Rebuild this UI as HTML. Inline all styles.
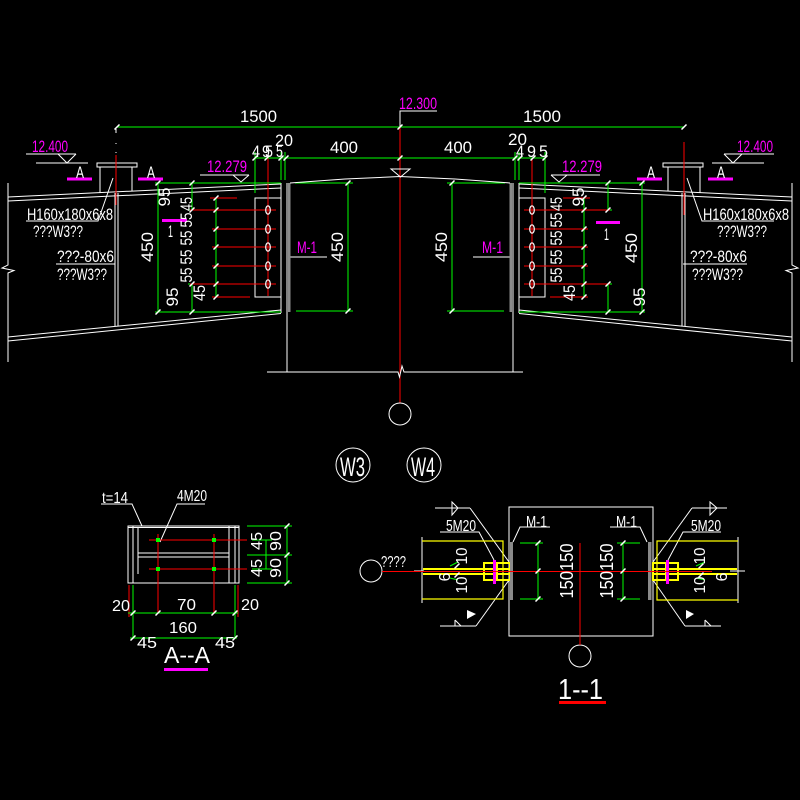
<!DOCTYPE html>
<html><head><meta charset="utf-8"><style>
html,body{margin:0;padding:0;background:#000;}
svg{display:block;}
text{font-family:"Liberation Sans",sans-serif;}
</style></head><body>
<svg width="800" height="800" viewBox="0 0 800 800" xmlns="http://www.w3.org/2000/svg">
<rect width="800" height="800" fill="#000"/>

<!-- ===== LEFT HALF GEOMETRY ===== -->
<g>
 <g fill="none" stroke="#fff" stroke-width="1">
  <path d="M8,183 V265 L2,268 L14,270.5 L8,273 V362"/>
  <line x1="8" y1="197" x2="281" y2="184"/>
  <line x1="8" y1="201" x2="281" y2="188"/>
  <line x1="8" y1="337" x2="281" y2="310"/>
  <line x1="8" y1="341" x2="281" y2="313.5"/>
  <rect x="97" y="163" width="40" height="4"/>
  <line x1="100" y1="167" x2="100" y2="192.5"/>
  <line x1="132" y1="167" x2="132" y2="191"/>
  <line x1="115" y1="193" x2="115" y2="326"/>
  <line x1="118" y1="193" x2="118" y2="326"/>
  <line x1="26" y1="154" x2="76" y2="154"/>
  <path d="M58,154 L67,163 L76,154"/>
  <line x1="36" y1="163" x2="88" y2="163"/>
  <polyline points="26,221 98,221 113,178"/>
  <line x1="56" y1="264" x2="115" y2="264"/>
  <line x1="200" y1="175" x2="249" y2="175"/>
  <path d="M233,175 L241,182 L249,175"/>
  <rect x="255" y="198" width="26" height="99"/>
  <line x1="281" y1="183" x2="281" y2="313"/>
  <line x1="287" y1="183" x2="287" y2="372"/>
  <line x1="290" y1="257" x2="327" y2="257"/>
 </g>
 <rect x="288" y="183" width="2.5" height="129" fill="#8a8a8a"/>
 <g stroke="#f00" stroke-width="1">
  <line x1="268" y1="158" x2="268" y2="296"/>
  <line x1="210" y1="198" x2="237" y2="198"/>
  <line x1="190" y1="210" x2="276" y2="210"/>
  <line x1="212" y1="229" x2="276" y2="229"/>
  <line x1="212" y1="247" x2="276" y2="247"/>
  <line x1="212" y1="266" x2="276" y2="266"/>
  <line x1="190" y1="284" x2="276" y2="284"/>
  <line x1="212" y1="297" x2="250" y2="297"/>
 </g>
 <g stroke="#0f0" stroke-width="1">
  <line x1="158" y1="183" x2="158" y2="312"/>
  <line x1="155" y1="183" x2="281" y2="183"/>
  <line x1="155" y1="312" x2="281" y2="312"/>
  <line x1="192" y1="183" x2="192" y2="210"/>
  <line x1="188" y1="210" x2="190" y2="210"/>
  <line x1="192" y1="284" x2="192" y2="312"/>
  <line x1="188" y1="284" x2="190" y2="284"/>
  <line x1="216" y1="198" x2="216" y2="297"/>
  <line x1="255" y1="152" x2="255" y2="193"/>
  <line x1="281" y1="152" x2="281" y2="180"/>
  <line x1="285" y1="152" x2="285" y2="180"/>
  <line x1="348" y1="183" x2="348" y2="311"/>
  <line x1="295" y1="183" x2="353" y2="183"/>
  <line x1="296" y1="311" x2="353" y2="311"/>
 </g>
 <g fill="none" stroke="#fff" stroke-width="1.2">
  <ellipse cx="268" cy="210" rx="2.3" ry="4.2"/>
  <ellipse cx="268" cy="229" rx="2.3" ry="4.2"/>
  <ellipse cx="268" cy="247" rx="2.3" ry="4.2"/>
  <ellipse cx="268" cy="266" rx="2.3" ry="4.2"/>
  <ellipse cx="268" cy="284" rx="2.3" ry="4.2"/>
 </g>
 <path stroke="#fff" stroke-width="1.5" fill="none" d="M155.5,185.5 l5,-5 M155.5,314.5 l5,-5 M189.5,185.5 l5,-5 M189.5,212.5 l5,-5 M189.5,286.5 l5,-5 M189.5,314.5 l5,-5 M213.5,200.5 l5,-5 M213.5,212.5 l5,-5 M213.5,231.5 l5,-5 M213.5,249.5 l5,-5 M213.5,268.5 l5,-5 M213.5,286.5 l5,-5 M213.5,299.5 l5,-5 M345.5,185.5 l5,-5 M345.5,313.5 l5,-5"/>
 <rect x="67" y="177.5" width="25" height="3" fill="#f0f"/>
 <rect x="138" y="177.5" width="25" height="3" fill="#f0f"/>
</g>

<!-- ===== RIGHT HALF (mirror) ===== -->
<g transform="translate(800,0) scale(-1,1)">
 <g fill="none" stroke="#fff" stroke-width="1">
  <path d="M8,183 V265 L2,268 L14,270.5 L8,273 V362"/>
  <line x1="8" y1="197" x2="281" y2="184"/>
  <line x1="8" y1="201" x2="281" y2="188"/>
  <line x1="8" y1="337" x2="281" y2="310"/>
  <line x1="8" y1="341" x2="281" y2="313.5"/>
  <rect x="97" y="163" width="40" height="4"/>
  <line x1="100" y1="167" x2="100" y2="192.5"/>
  <line x1="132" y1="167" x2="132" y2="191"/>
  <line x1="115" y1="193" x2="115" y2="326"/>
  <line x1="118" y1="193" x2="118" y2="326"/>
  <line x1="26" y1="154" x2="76" y2="154"/>
  <path d="M58,154 L67,163 L76,154"/>
  <line x1="36" y1="163" x2="88" y2="163"/>
  <polyline points="26,221 98,221 113,178"/>
  <line x1="53" y1="264" x2="117" y2="264"/>
  <line x1="200" y1="175" x2="249" y2="175"/>
  <path d="M233,175 L241,182 L249,175"/>
  <rect x="255" y="198" width="26" height="99"/>
  <line x1="281" y1="183" x2="281" y2="313"/>
  <line x1="287" y1="183" x2="287" y2="372"/>
  <line x1="290" y1="257" x2="327" y2="257"/>
 </g>
 <rect x="288" y="183" width="2.5" height="129" fill="#8a8a8a"/>
 <g stroke="#f00" stroke-width="1">
  <line x1="268" y1="158" x2="268" y2="296"/>
  <line x1="210" y1="198" x2="237" y2="198"/>
  <line x1="190" y1="210" x2="276" y2="210"/>
  <line x1="212" y1="229" x2="276" y2="229"/>
  <line x1="212" y1="247" x2="276" y2="247"/>
  <line x1="212" y1="266" x2="276" y2="266"/>
  <line x1="190" y1="284" x2="276" y2="284"/>
  <line x1="212" y1="297" x2="250" y2="297"/>
 </g>
 <g stroke="#0f0" stroke-width="1">
  <line x1="158" y1="183" x2="158" y2="312"/>
  <line x1="155" y1="183" x2="281" y2="183"/>
  <line x1="155" y1="312" x2="281" y2="312"/>
  <line x1="192" y1="183" x2="192" y2="210"/>
  <line x1="188" y1="210" x2="190" y2="210"/>
  <line x1="192" y1="284" x2="192" y2="312"/>
  <line x1="188" y1="284" x2="190" y2="284"/>
  <line x1="216" y1="198" x2="216" y2="297"/>
  <line x1="255" y1="152" x2="255" y2="193"/>
  <line x1="281" y1="152" x2="281" y2="180"/>
  <line x1="285" y1="152" x2="285" y2="180"/>
  <line x1="348" y1="183" x2="348" y2="311"/>
  <line x1="295" y1="183" x2="353" y2="183"/>
  <line x1="296" y1="311" x2="353" y2="311"/>
 </g>
 <g fill="none" stroke="#fff" stroke-width="1.2">
  <ellipse cx="268" cy="210" rx="2.3" ry="4.2"/>
  <ellipse cx="268" cy="229" rx="2.3" ry="4.2"/>
  <ellipse cx="268" cy="247" rx="2.3" ry="4.2"/>
  <ellipse cx="268" cy="266" rx="2.3" ry="4.2"/>
  <ellipse cx="268" cy="284" rx="2.3" ry="4.2"/>
 </g>
 <path stroke="#fff" stroke-width="1.5" fill="none" d="M155.5,180.5 l5,5 M155.5,309.5 l5,5 M189.5,180.5 l5,5 M189.5,207.5 l5,5 M189.5,281.5 l5,5 M189.5,309.5 l5,5 M213.5,195.5 l5,5 M213.5,207.5 l5,5 M213.5,226.5 l5,5 M213.5,244.5 l5,5 M213.5,263.5 l5,5 M213.5,281.5 l5,5 M213.5,294.5 l5,5 M345.5,180.5 l5,5 M345.5,308.5 l5,5"/>
 <rect x="67" y="177.5" width="25" height="3" fill="#f0f"/>
 <rect x="138" y="177.5" width="25" height="3" fill="#f0f"/>
</g>

<!-- ===== CENTER / SHARED TOP ===== -->
<g stroke="#0f0" stroke-width="1">
 <line x1="117" y1="127" x2="684" y2="127"/>
 <line x1="255" y1="158" x2="545" y2="158"/>
 <line x1="545" y1="158" x2="545" y2="192"/>
</g>
<g stroke="#f00" stroke-width="1">
 <line x1="116" y1="155" x2="116" y2="205"/>
 <line x1="684" y1="142" x2="684" y2="215"/>
 <line x1="400" y1="127" x2="400" y2="403"/>
</g>
<g fill="none" stroke="#fff" stroke-width="1">
 <line x1="116" y1="129" x2="116" y2="133"/>
 <line x1="116" y1="143" x2="116" y2="144"/>
 <line x1="116" y1="152" x2="116" y2="153"/>
 <polyline points="290,183 345,179 400,176.5 455,179 510,183"/>
 <path d="M391,169 H410 L400.5,177 Z"/>
 <path d="M267,372 H398 L399.5,377 L402,366 L404,372 H523"/>
 <circle cx="400" cy="414" r="11"/>
 <polyline points="437,111 400,111 400,127"/>
</g>
<path stroke="#fff" stroke-width="1.5" fill="none" d="M114.5,129.5 l5,-5 M397.5,129.5 l5,-5 M681.5,129.5 l5,-5 M252.5,160.5 l5,-5 M264.5,160.5 l5,-5 M278.5,160.5 l5,-5 M283.5,160.5 l5,-5 M397.5,160.5 l5,-5 M512.5,160.5 l5,-5 M517.5,160.5 l5,-5 M530.5,160.5 l5,-5 M542.5,160.5 l5,-5"/>

<rect x="162" y="219" width="25" height="3" fill="#f0f"/>
<rect x="596" y="221" width="24" height="3" fill="#f0f"/>

<!-- ===== TOP TEXTS ===== -->
<g fill="#fff" font-size="16.5">
 <text x="240" y="122" textLength="37" lengthAdjust="spacingAndGlyphs">1500</text>
 <text x="523" y="122" textLength="38" lengthAdjust="spacingAndGlyphs">1500</text>
 <text x="330" y="153" textLength="28" lengthAdjust="spacingAndGlyphs">400</text>
 <text x="444" y="153" textLength="28" lengthAdjust="spacingAndGlyphs">400</text>
 <text x="275" y="146" textLength="18" lengthAdjust="spacingAndGlyphs">20</text>
 <text x="508" y="145" textLength="19" lengthAdjust="spacingAndGlyphs">20</text>
 <text x="252" y="157" textLength="8" lengthAdjust="spacingAndGlyphs">4</text>
 <text x="262" y="157" textLength="8" lengthAdjust="spacingAndGlyphs">9</text>
 <text x="265" y="157" textLength="8" lengthAdjust="spacingAndGlyphs">5</text>
 <text x="276" y="157" textLength="7" lengthAdjust="spacingAndGlyphs">5</text>
 <text x="516" y="157" textLength="8" lengthAdjust="spacingAndGlyphs">4</text>
 <text x="527" y="157" textLength="9" lengthAdjust="spacingAndGlyphs">9</text>
 <text x="539" y="157" textLength="9" lengthAdjust="spacingAndGlyphs">5</text>
 <text x="27" y="220" textLength="86" lengthAdjust="spacingAndGlyphs">H160x180x6x8</text>
 <text x="703" y="220" textLength="86" lengthAdjust="spacingAndGlyphs">H160x180x6x8</text>
 <text x="33" y="237" textLength="50" lengthAdjust="spacingAndGlyphs">???W3??</text>
 <text x="717" y="237" textLength="50" lengthAdjust="spacingAndGlyphs">???W3??</text>
 <text x="57" y="262" textLength="57" lengthAdjust="spacingAndGlyphs">???-80x6</text>
 <text x="690" y="262" textLength="57" lengthAdjust="spacingAndGlyphs">???-80x6</text>
 <text x="57" y="280" textLength="50" lengthAdjust="spacingAndGlyphs">???W3??</text>
 <text x="692" y="280" textLength="51" lengthAdjust="spacingAndGlyphs">???W3??</text>
 <text x="76" y="178" textLength="8" lengthAdjust="spacingAndGlyphs">A</text>
 <text x="147" y="178" textLength="8" lengthAdjust="spacingAndGlyphs">A</text>
 <text x="647" y="178" textLength="8" lengthAdjust="spacingAndGlyphs">A</text>
 <text x="717" y="178" textLength="8" lengthAdjust="spacingAndGlyphs">A</text>
 <text x="168" y="237" textLength="5" lengthAdjust="spacingAndGlyphs">1</text>
 <text x="604" y="240" textLength="5" lengthAdjust="spacingAndGlyphs">1</text>
</g>
<g fill="#f0f" font-size="16.5">
 <text x="32" y="152" textLength="36" lengthAdjust="spacingAndGlyphs">12.400</text>
 <text x="737" y="152" textLength="36" lengthAdjust="spacingAndGlyphs">12.400</text>
 <text x="207" y="172" textLength="40" lengthAdjust="spacingAndGlyphs">12.279</text>
 <text x="562" y="172" textLength="40" lengthAdjust="spacingAndGlyphs">12.279</text>
 <text x="399" y="109" textLength="38" lengthAdjust="spacingAndGlyphs">12.300</text>
 <text x="297" y="253" textLength="20" lengthAdjust="spacingAndGlyphs">M-1</text>
 <text x="482" y="253" textLength="21" lengthAdjust="spacingAndGlyphs">M-1</text>
</g>
<g fill="#fff" font-size="16.5" text-anchor="middle">
 <text transform="translate(147,247) rotate(-90)" x="0" y="6" textLength="30" lengthAdjust="spacingAndGlyphs">450</text>
 <text transform="translate(337,247) rotate(-90)" x="0" y="6" textLength="30" lengthAdjust="spacingAndGlyphs">450</text>
 <text transform="translate(441,247) rotate(-90)" x="0" y="6" textLength="30" lengthAdjust="spacingAndGlyphs">450</text>
 <text transform="translate(631,248) rotate(-90)" x="0" y="6" textLength="30" lengthAdjust="spacingAndGlyphs">450</text>
 <text transform="translate(164,197) rotate(-90)" x="0" y="6" textLength="19" lengthAdjust="spacingAndGlyphs">95</text>
 <text transform="translate(172,297) rotate(-90)" x="0" y="6" textLength="19" lengthAdjust="spacingAndGlyphs">95</text>
 <text transform="translate(578,197) rotate(-90)" x="0" y="6" textLength="19" lengthAdjust="spacingAndGlyphs">95</text>
 <text transform="translate(639,297) rotate(-90)" x="0" y="6" textLength="19" lengthAdjust="spacingAndGlyphs">95</text>
 <text transform="translate(186,204) rotate(-90)" x="0" y="6" textLength="14" lengthAdjust="spacingAndGlyphs">45</text>
 <text transform="translate(186,220) rotate(-90)" x="0" y="6" textLength="15" lengthAdjust="spacingAndGlyphs">55</text>
 <text transform="translate(186,238) rotate(-90)" x="0" y="6" textLength="15" lengthAdjust="spacingAndGlyphs">55</text>
 <text transform="translate(186,257) rotate(-90)" x="0" y="6" textLength="15" lengthAdjust="spacingAndGlyphs">55</text>
 <text transform="translate(186,275) rotate(-90)" x="0" y="6" textLength="15" lengthAdjust="spacingAndGlyphs">55</text>
 <text transform="translate(199,293) rotate(-90)" x="0" y="6" textLength="16" lengthAdjust="spacingAndGlyphs">45</text>
 <text transform="translate(556,204) rotate(-90)" x="0" y="6" textLength="14" lengthAdjust="spacingAndGlyphs">45</text>
 <text transform="translate(556,220) rotate(-90)" x="0" y="6" textLength="15" lengthAdjust="spacingAndGlyphs">55</text>
 <text transform="translate(556,238) rotate(-90)" x="0" y="6" textLength="15" lengthAdjust="spacingAndGlyphs">55</text>
 <text transform="translate(556,257) rotate(-90)" x="0" y="6" textLength="15" lengthAdjust="spacingAndGlyphs">55</text>
 <text transform="translate(556,275) rotate(-90)" x="0" y="6" textLength="15" lengthAdjust="spacingAndGlyphs">55</text>
 <text transform="translate(569,293) rotate(-90)" x="0" y="6" textLength="16" lengthAdjust="spacingAndGlyphs">45</text>
</g>

<!-- ===== W3 / W4 ===== -->
<g fill="none" stroke="#fff" stroke-width="1">
 <circle cx="353" cy="465" r="17"/>
 <circle cx="424" cy="465" r="17"/>
</g>
<g fill="#fff" font-size="27">
 <text x="340" y="476" textLength="25" lengthAdjust="spacingAndGlyphs">W3</text>
 <text x="411" y="476" textLength="24" lengthAdjust="spacingAndGlyphs">W4</text>
</g>

<!-- ===== SECTION A--A ===== -->
<g fill="none" stroke="#fff" stroke-width="1">
 <polyline points="101,504 132,504 142,526"/>
 <polyline points="205,504 177,504 160,542"/>
 <rect x="128" y="526" width="111" height="57"/>
 <line x1="128" y1="527.5" x2="239" y2="527.5"/>
 <line x1="133" y1="526" x2="133" y2="583"/>
 <line x1="138" y1="527" x2="138" y2="574"/>
 <line x1="229" y1="526" x2="229" y2="583"/>
 <line x1="235" y1="526" x2="235" y2="583"/>
 <line x1="138" y1="553" x2="229" y2="553"/>
 <line x1="138" y1="557" x2="229" y2="557"/>
</g>
<g stroke="#f00" stroke-width="1">
 <line x1="149" y1="540" x2="247" y2="540"/>
 <line x1="149" y1="569" x2="247" y2="569"/>
 <line x1="158" y1="534" x2="158" y2="613"/>
 <line x1="214" y1="534" x2="214" y2="613"/>
 <line x1="129" y1="585" x2="129" y2="617"/>
 <line x1="238" y1="585" x2="238" y2="617"/>
</g>
<g fill="#0f0">
 <rect x="156" y="538" width="4" height="4"/>
 <rect x="212" y="538" width="4" height="4"/>
 <rect x="156" y="567" width="4" height="4"/>
 <rect x="212" y="567" width="4" height="4"/>
</g>
<g stroke="#0f0" stroke-width="1">
 <line x1="128" y1="613" x2="238" y2="613"/>
 <line x1="133" y1="585" x2="133" y2="639"/>
 <line x1="235" y1="585" x2="235" y2="639"/>
 <line x1="130" y1="638" x2="237" y2="638"/>
 <line x1="247" y1="526" x2="292" y2="526"/>
 <line x1="247" y1="555" x2="292" y2="555"/>
 <line x1="247" y1="583" x2="292" y2="583"/>
 <line x1="287" y1="526" x2="287" y2="583"/>
 <line x1="266" y1="540" x2="266" y2="569"/>
 <line x1="252" y1="540" x2="272" y2="540"/>
 <line x1="252" y1="569" x2="272" y2="569"/>
</g>
<path stroke="#fff" stroke-width="1.5" fill="none" d="M130.5,615.5 l5,-5 M155.5,615.5 l5,-5 M211.5,615.5 l5,-5 M232.5,615.5 l5,-5 M130.5,640.5 l5,-5 M232.5,640.5 l5,-5 M284.5,528.5 l5,-5 M284.5,557.5 l5,-5 M284.5,585.5 l5,-5"/>
<rect x="164" y="668" width="44" height="3" fill="#f0f"/>
<g fill="#fff" font-size="16">
 <text x="102" y="503" textLength="26" lengthAdjust="spacingAndGlyphs">t=14</text>
 <text x="177" y="501" textLength="30" lengthAdjust="spacingAndGlyphs">4M20</text>
 <text x="112" y="611" textLength="18" lengthAdjust="spacingAndGlyphs">20</text>
 <text x="177" y="610" textLength="19" lengthAdjust="spacingAndGlyphs">70</text>
 <text x="241" y="610" textLength="18" lengthAdjust="spacingAndGlyphs">20</text>
 <text x="169" y="633" textLength="28" lengthAdjust="spacingAndGlyphs">160</text>
 <text x="137" y="648" textLength="20" lengthAdjust="spacingAndGlyphs">45</text>
 <text x="215" y="648" textLength="20" lengthAdjust="spacingAndGlyphs">45</text>
 <text x="164" y="663" font-size="23" textLength="46" lengthAdjust="spacingAndGlyphs">A--A</text>
</g>
<g fill="#fff" font-size="16" text-anchor="middle">
 <text transform="translate(275,541) rotate(-90)" x="0" y="6" textLength="20" lengthAdjust="spacingAndGlyphs">90</text>
 <text transform="translate(275,568) rotate(-90)" x="0" y="6" textLength="20" lengthAdjust="spacingAndGlyphs">90</text>
 <text transform="translate(256,541) rotate(-90)" x="0" y="6" textLength="18" lengthAdjust="spacingAndGlyphs">45</text>
 <text transform="translate(256,568) rotate(-90)" x="0" y="6" textLength="18" lengthAdjust="spacingAndGlyphs">45</text>
</g>

<!-- ===== SECTION 1--1 ===== -->
<g fill="none" stroke="#fff" stroke-width="1">
 <circle cx="371" cy="571" r="11"/>
 <rect x="509" y="507" width="144" height="129"/>
 <line x1="422" y1="537" x2="422" y2="603"/>
 <line x1="738" y1="537" x2="738" y2="603"/>
 <circle cx="580" cy="656" r="11"/>
 <line x1="435" y1="508" x2="470" y2="508"/>
 <path d="M452,502 V515 L458,508 Z"/>
 <line x1="470" y1="508" x2="509" y2="562"/>
 <line x1="440" y1="626" x2="476" y2="626"/>
 <path d="M455,620 V626 M455,620 L461,626"/>
 <line x1="476" y1="626" x2="509" y2="580"/>
 <polyline points="440,532 479,532 494,560"/>
 <line x1="692" y1="508" x2="727" y2="508"/>
 <path d="M710,502 V515 L717,508 Z"/>
 <line x1="692" y1="508" x2="653" y2="562"/>
 <line x1="685" y1="626" x2="721" y2="626"/>
 <path d="M705,620 V626 M705,620 L711,626"/>
 <line x1="685" y1="626" x2="653" y2="580"/>
 <polyline points="721,532 683,532 668,560"/>
 <polyline points="550,527 520,527 513,542"/>
 <polyline points="610,527 640,527 647,542"/>
 <line x1="414" y1="571" x2="424" y2="571"/>
 <line x1="730" y1="571" x2="745" y2="571"/>
</g>
<path d="M467,610 V619 L476,614 Z" fill="#fff"/>
<path d="M686,610 V619 L694,614 Z" fill="#fff"/>
<g fill="none" stroke="#ff0" stroke-width="1.2">
 <polyline points="422,541 503,541 503,599 422,599"/>
 <polyline points="738,541 657,541 657,600 738,600"/>
</g>
<g fill="none" stroke="#ff0" stroke-width="2">
 <line x1="423" y1="569" x2="510" y2="569"/>
 <line x1="423" y1="574" x2="510" y2="574"/>
 <rect x="484" y="563" width="26" height="17"/>
 <line x1="497" y1="563" x2="497" y2="580"/>
 <line x1="653" y1="569" x2="737" y2="569"/>
 <line x1="653" y1="574" x2="737" y2="574"/>
 <rect x="653" y="563" width="25" height="17"/>
 <line x1="666" y1="563" x2="666" y2="580"/>
</g>
<rect x="493" y="560" width="3" height="24" fill="#f0f"/>
<rect x="666" y="560" width="3" height="24" fill="#f0f"/>
<rect x="510" y="542" width="3" height="58" fill="#8a8a8a"/>
<rect x="648" y="542" width="3.5" height="58" fill="#8a8a8a"/>
<g stroke="#f00" stroke-width="1">
 <line x1="382" y1="571.5" x2="712" y2="571.5"/>
 <line x1="580" y1="543" x2="580" y2="645"/>
</g>
<rect x="559" y="701" width="47" height="3" fill="#f00"/>
<g stroke="#0f0" stroke-width="1">
 <line x1="538" y1="543" x2="538" y2="599"/>
 <line x1="520" y1="543" x2="543" y2="543"/>
 <line x1="520" y1="599" x2="543" y2="599"/>
 <line x1="623" y1="543" x2="623" y2="599"/>
 <line x1="617" y1="543" x2="640" y2="543"/>
 <line x1="617" y1="599" x2="640" y2="599"/>
 <line x1="450" y1="566" x2="458" y2="562"/>
 <line x1="450" y1="578" x2="458" y2="580"/>
 <line x1="696" y1="566" x2="705" y2="562"/>
 <line x1="696" y1="578" x2="705" y2="580"/>
</g>
<path stroke="#fff" stroke-width="1.5" fill="none" d="M535.5,545.5 l5,-5 M535.5,573.5 l5,-5 M535.5,601.5 l5,-5 M620.5,545.5 l5,-5 M620.5,573.5 l5,-5 M620.5,601.5 l5,-5 M454.5,568.5 l5,-5 M454.5,577.5 l5,-5 M698.5,568.5 l5,-5 M698.5,577.5 l5,-5"/>
<g fill="#fff" font-size="16">
 <text x="381" y="567" textLength="25" lengthAdjust="spacingAndGlyphs">????</text>
 <text x="446" y="531" textLength="30" lengthAdjust="spacingAndGlyphs">5M20</text>
 <text x="691" y="531" textLength="30" lengthAdjust="spacingAndGlyphs">5M20</text>
 <text x="526" y="527" textLength="21" lengthAdjust="spacingAndGlyphs">M-1</text>
 <text x="616" y="527" textLength="21" lengthAdjust="spacingAndGlyphs">M-1</text>
 <text x="558" y="699" font-size="29" textLength="45" lengthAdjust="spacingAndGlyphs">1--1</text>
</g>
<g fill="#fff" text-anchor="middle">
 <text transform="translate(566.5,571) rotate(-90)" x="0" y="6.5" font-size="18" textLength="55" lengthAdjust="spacingAndGlyphs">150150</text>
 <text transform="translate(606.5,571) rotate(-90)" x="0" y="6.5" font-size="18" textLength="55" lengthAdjust="spacingAndGlyphs">150150</text>
 <text transform="translate(461,556) rotate(-90)" x="0" y="6" font-size="16" textLength="17" lengthAdjust="spacingAndGlyphs">10</text>
 <text transform="translate(461,585) rotate(-90)" x="0" y="6" font-size="16" textLength="17" lengthAdjust="spacingAndGlyphs">10</text>
 <text transform="translate(444,577) rotate(-90)" x="0" y="6" font-size="16" textLength="9" lengthAdjust="spacingAndGlyphs">6</text>
 <text transform="translate(699,556) rotate(-90)" x="0" y="6" font-size="16" textLength="17" lengthAdjust="spacingAndGlyphs">10</text>
 <text transform="translate(699,585) rotate(-90)" x="0" y="6" font-size="16" textLength="17" lengthAdjust="spacingAndGlyphs">10</text>
 <text transform="translate(721,577) rotate(-90)" x="0" y="6" font-size="16" textLength="9" lengthAdjust="spacingAndGlyphs">6</text>
</g>
</svg>
</body></html>
